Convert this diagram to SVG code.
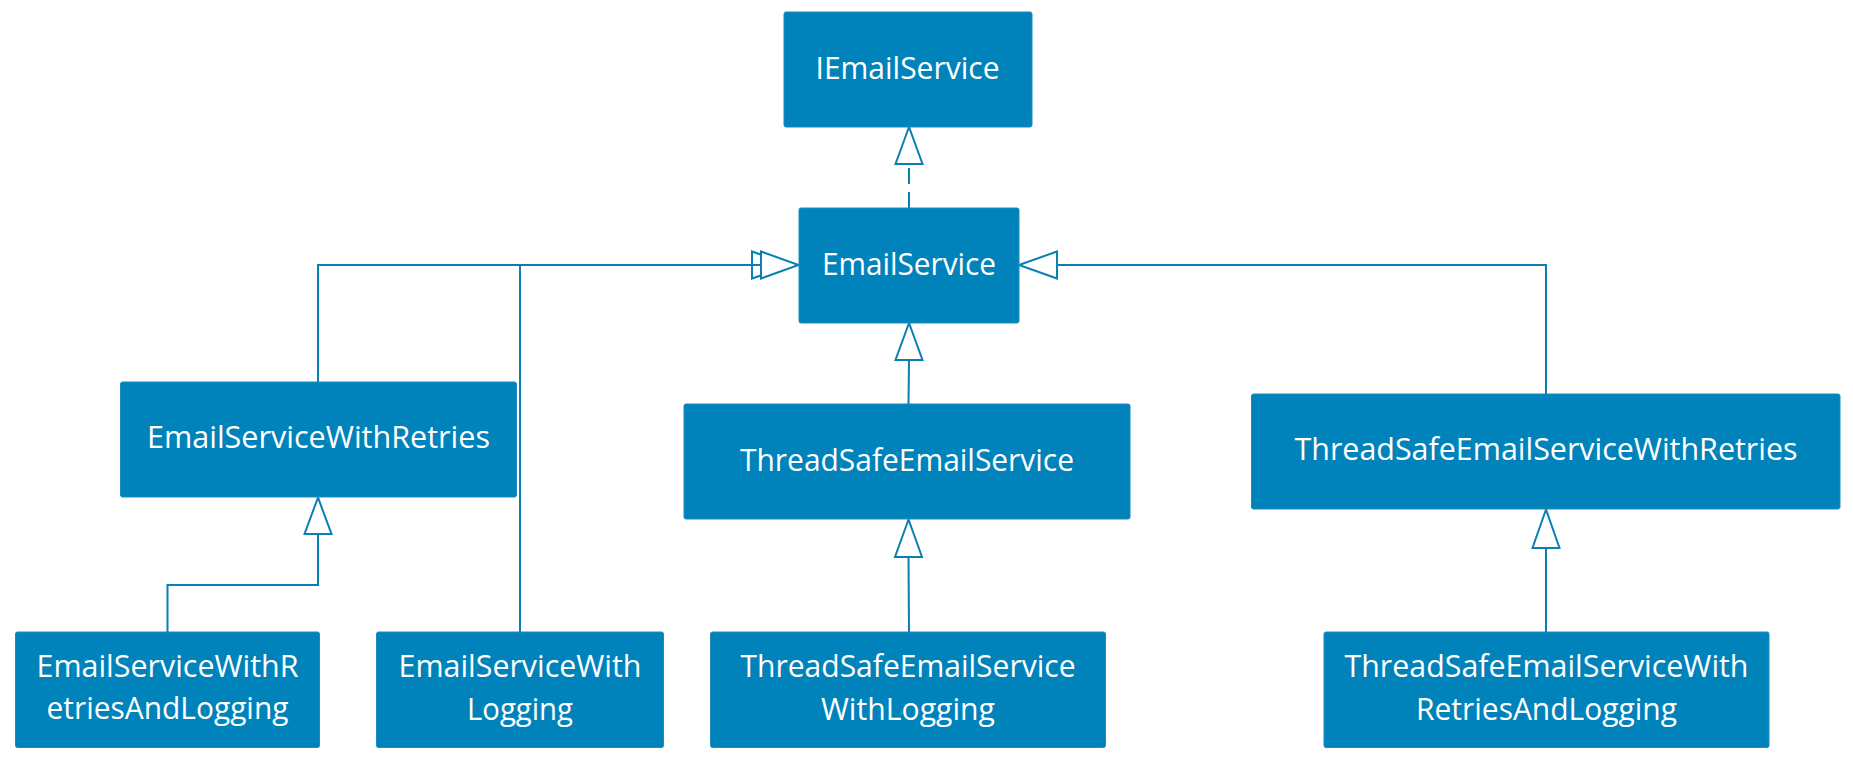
<svg xmlns="http://www.w3.org/2000/svg" width="1853" height="757" viewBox="0 0 1853 757">
<style>
.box{fill:#0083BA;stroke:#1a8cc0;stroke-width:1}
.t{font-family:"Open Sans","Noto Sans",sans-serif;font-size:31px;fill:#ffffff;text-anchor:middle}
.c{fill:none;stroke:#0a7fb4;stroke-width:2}
.h{fill:#ffffff;stroke:#0a7fb4;stroke-width:2;stroke-linejoin:miter}
</style>
<rect width="1853" height="757" fill="#ffffff"/>
<g id="connectors">
<line class="c" x1="909" y1="208" x2="909" y2="164" stroke-dasharray="16,8"/>
<polygon class="h" points="909,127 895.5,164 922.5,164"/>
<polygon class="h" points="791,265 752,251.5 752,278.5"/>
<polyline class="c" points="318,382 318,265 761,265"/>
<polyline class="c" points="520,632 520,265"/>
<polygon class="h" points="798.5,265 761,251.5 761,278.5"/>
<polyline class="c" points="1546,394 1546,265 1057,265"/>
<polygon class="h" points="1019,265 1057,251.5 1057,278.5"/>
<polyline class="c" points="908.5,404 909,360"/>
<polygon class="h" points="909,323 895.5,360 922.5,360"/>
<polyline class="c" points="909,632 908.5,557"/>
<polygon class="h" points="908.5,519.5 895,557 922,557"/>
<polyline class="c" points="1546,632 1546,548"/>
<polygon class="h" points="1546,509.5 1532.5,548 1559.5,548"/>
<polyline class="c" points="167.5,632 167.5,585 318,585 318,534"/>
<polygon class="h" points="318,497.5 304.5,534 331.5,534"/>
</g>
<g id="IEmailService">
<rect class="box" x="784" y="12" width="248" height="115" rx="2"/>
<text class="t" x="907.5" y="79" textLength="184" lengthAdjust="spacingAndGlyphs">IEmailService</text>
</g>
<g id="EmailService">
<rect class="box" x="799" y="208" width="220" height="115" rx="2"/>
<text class="t" x="909" y="275" textLength="174" lengthAdjust="spacingAndGlyphs">EmailService</text>
</g>
<g id="EmailServiceWithRetries">
<rect class="box" x="120.5" y="382" width="396" height="115" rx="2"/>
<text class="t" x="318.5" y="448" textLength="343" lengthAdjust="spacingAndGlyphs">EmailServiceWithRetries</text>
</g>
<g id="ThreadSafeEmailService">
<rect class="box" x="684" y="404" width="446" height="115" rx="2"/>
<text class="t" x="907" y="471" textLength="334" lengthAdjust="spacingAndGlyphs">ThreadSafeEmailService</text>
</g>
<g id="ThreadSafeEmailServiceWithRetries">
<rect class="box" x="1251.5" y="394" width="588.5" height="115" rx="2"/>
<text class="t" x="1546" y="460" textLength="503" lengthAdjust="spacingAndGlyphs">ThreadSafeEmailServiceWithRetries</text>
</g>
<g id="EmailServiceWithRetriesAndLogging">
<rect class="box" x="15.5" y="632" width="304" height="115.5" rx="2"/>
<text class="t" x="167.5" y="677" textLength="262" lengthAdjust="spacingAndGlyphs">EmailServiceWithR</text>
<text class="t" x="167.5" y="719" textLength="242" lengthAdjust="spacingAndGlyphs">etriesAndLogging</text>
</g>
<g id="EmailServiceWithLogging">
<rect class="box" x="376.5" y="632" width="287" height="115.5" rx="2"/>
<text class="t" x="520" y="677" textLength="243" lengthAdjust="spacingAndGlyphs">EmailServiceWith</text>
<text class="t" x="520" y="720" textLength="106" lengthAdjust="spacingAndGlyphs">Logging</text>
</g>
<g id="ThreadSafeEmailServiceWithLogging">
<rect class="box" x="710.5" y="632" width="395" height="115.5" rx="2"/>
<text class="t" x="908" y="677" textLength="335" lengthAdjust="spacingAndGlyphs">ThreadSafeEmailService</text>
<text class="t" x="908" y="720" textLength="174" lengthAdjust="spacingAndGlyphs">WithLogging</text>
</g>
<g id="ThreadSafeEmailServiceWithRetriesAndLogging">
<rect class="box" x="1324" y="632" width="445" height="115.5" rx="2"/>
<text class="t" x="1546.5" y="677" textLength="404" lengthAdjust="spacingAndGlyphs">ThreadSafeEmailServiceWith</text>
<text class="t" x="1546.5" y="720" textLength="261" lengthAdjust="spacingAndGlyphs">RetriesAndLogging</text>
</g>
</svg>
